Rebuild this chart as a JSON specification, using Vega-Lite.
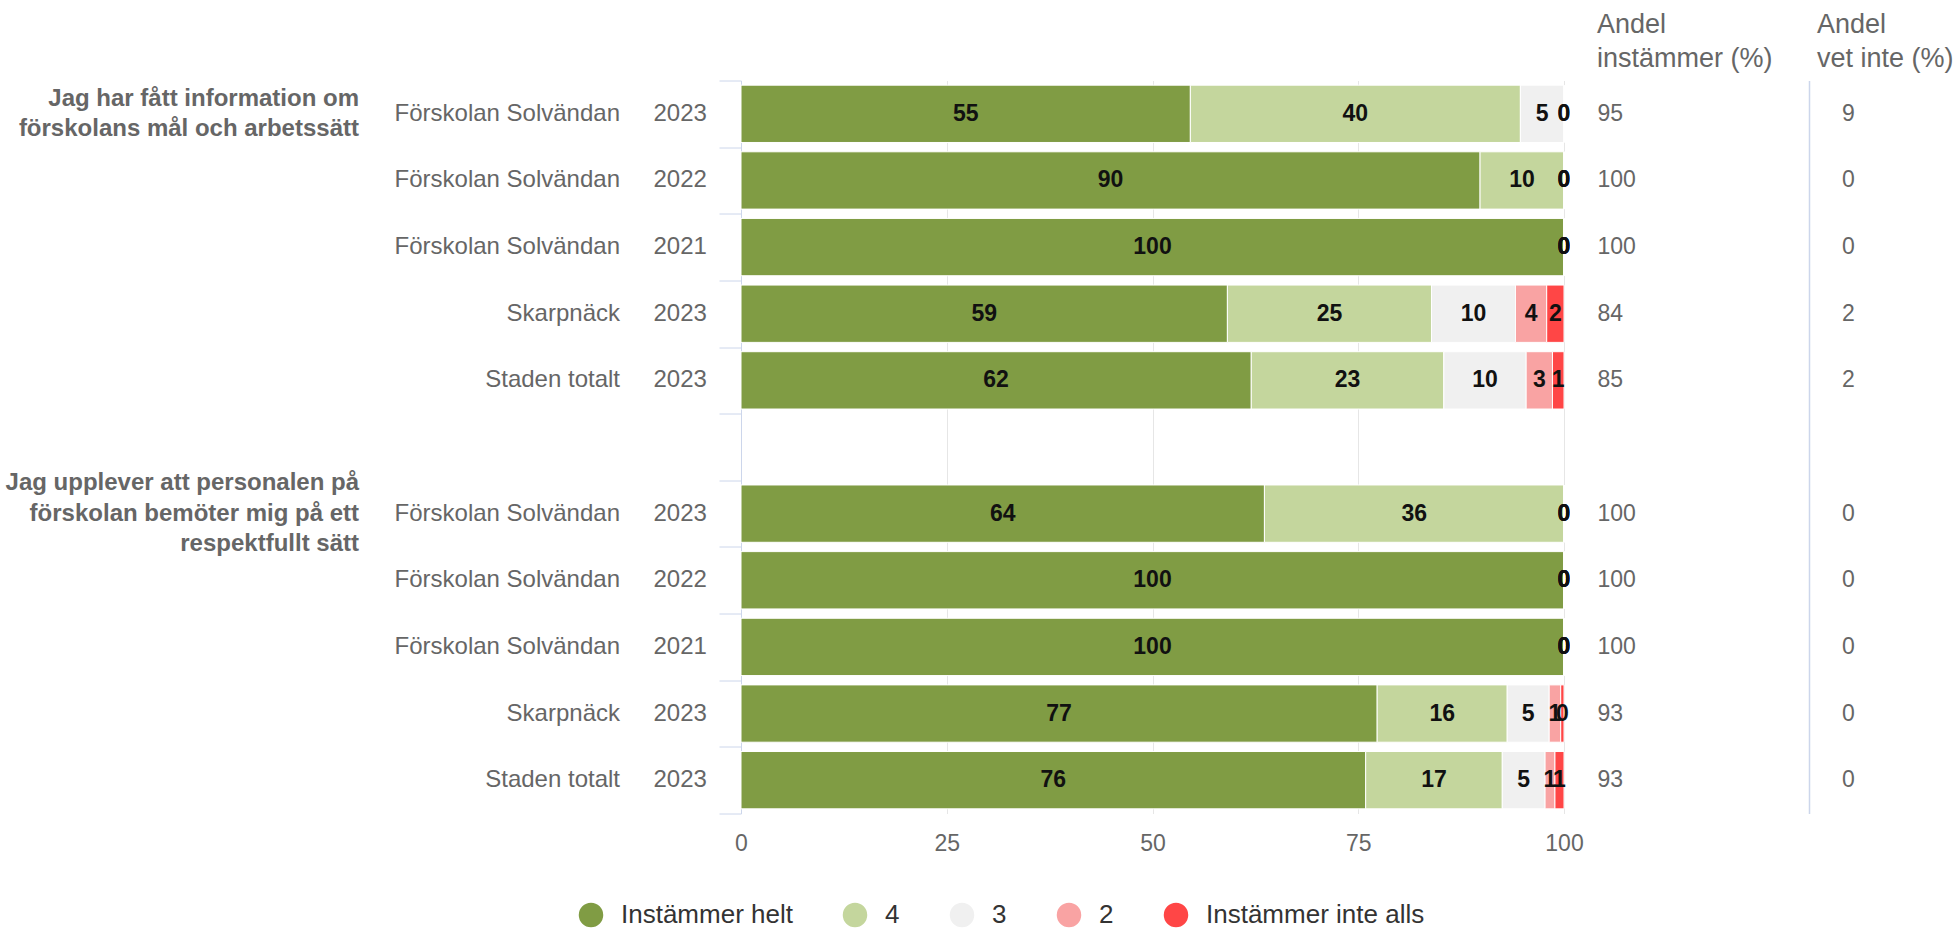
{
  "$schema": "https://vega.github.io/schema/vega-lite/v6.json",
  "padding": {"left": 0, "top": 10.5, "right": 0, "bottom": 0},
  "bounds": "flush",
  "spacing": 0,
  "config": {"font": "Liberation Sans", "view": {"stroke": null}, "concat": {"spacing": 0}},
  "datasets": {
    "questions": [
      {"row": "r0", "text": "Jag har fått information om\nförskolans mål och arbetssätt"},
      {"row": "r6", "text": "Jag upplever att personalen på\nförskolan bemöter mig på ett\nrespektfullt sätt"}
    ],
    "rows": [
      {"row": "r0", "name": "Förskolan Solvändan", "year": "2023", "andel": 95, "vetinte": 9},
      {"row": "r1", "name": "Förskolan Solvändan", "year": "2022", "andel": 100, "vetinte": 0},
      {"row": "r2", "name": "Förskolan Solvändan", "year": "2021", "andel": 100, "vetinte": 0},
      {"row": "r3", "name": "Skarpnäck", "year": "2023", "andel": 84, "vetinte": 2},
      {"row": "r4", "name": "Staden totalt", "year": "2023", "andel": 85, "vetinte": 2},
      {"row": "r6", "name": "Förskolan Solvändan", "year": "2023", "andel": 100, "vetinte": 0},
      {"row": "r7", "name": "Förskolan Solvändan", "year": "2022", "andel": 100, "vetinte": 0},
      {"row": "r8", "name": "Förskolan Solvändan", "year": "2021", "andel": 100, "vetinte": 0},
      {"row": "r9", "name": "Skarpnäck", "year": "2023", "andel": 93, "vetinte": 0},
      {"row": "r10", "name": "Staden totalt", "year": "2023", "andel": 93, "vetinte": 0}
    ],
    "svar": [
      {"row": "r0", "svar": "Instämmer helt", "level": 5, "value": 54.6},
      {"row": "r0", "svar": "4", "level": 4, "value": 40.1},
      {"row": "r0", "svar": "3", "level": 3, "value": 5.3},
      {"row": "r0", "svar": "2", "level": 2, "value": 0},
      {"row": "r0", "svar": "Instämmer inte alls", "level": 1, "value": 0},
      {"row": "r1", "svar": "Instämmer helt", "level": 5, "value": 89.8},
      {"row": "r1", "svar": "4", "level": 4, "value": 10.2},
      {"row": "r1", "svar": "3", "level": 3, "value": 0},
      {"row": "r1", "svar": "2", "level": 2, "value": 0},
      {"row": "r1", "svar": "Instämmer inte alls", "level": 1, "value": 0},
      {"row": "r2", "svar": "Instämmer helt", "level": 5, "value": 100},
      {"row": "r2", "svar": "4", "level": 4, "value": 0},
      {"row": "r2", "svar": "3", "level": 3, "value": 0},
      {"row": "r2", "svar": "2", "level": 2, "value": 0},
      {"row": "r2", "svar": "Instämmer inte alls", "level": 1, "value": 0},
      {"row": "r3", "svar": "Instämmer helt", "level": 5, "value": 59.1},
      {"row": "r3", "svar": "4", "level": 4, "value": 24.8},
      {"row": "r3", "svar": "3", "level": 3, "value": 10.2},
      {"row": "r3", "svar": "2", "level": 2, "value": 3.8},
      {"row": "r3", "svar": "Instämmer inte alls", "level": 1, "value": 2.1},
      {"row": "r4", "svar": "Instämmer helt", "level": 5, "value": 62.0},
      {"row": "r4", "svar": "4", "level": 4, "value": 23.4},
      {"row": "r4", "svar": "3", "level": 3, "value": 10.0},
      {"row": "r4", "svar": "2", "level": 2, "value": 3.2},
      {"row": "r4", "svar": "Instämmer inte alls", "level": 1, "value": 1.4},
      {"row": "r6", "svar": "Instämmer helt", "level": 5, "value": 63.6},
      {"row": "r6", "svar": "4", "level": 4, "value": 36.4},
      {"row": "r6", "svar": "3", "level": 3, "value": 0},
      {"row": "r6", "svar": "2", "level": 2, "value": 0},
      {"row": "r6", "svar": "Instämmer inte alls", "level": 1, "value": 0},
      {"row": "r7", "svar": "Instämmer helt", "level": 5, "value": 100},
      {"row": "r7", "svar": "4", "level": 4, "value": 0},
      {"row": "r7", "svar": "3", "level": 3, "value": 0},
      {"row": "r7", "svar": "2", "level": 2, "value": 0},
      {"row": "r7", "svar": "Instämmer inte alls", "level": 1, "value": 0},
      {"row": "r8", "svar": "Instämmer helt", "level": 5, "value": 100},
      {"row": "r8", "svar": "4", "level": 4, "value": 0},
      {"row": "r8", "svar": "3", "level": 3, "value": 0},
      {"row": "r8", "svar": "2", "level": 2, "value": 0},
      {"row": "r8", "svar": "Instämmer inte alls", "level": 1, "value": 0},
      {"row": "r9", "svar": "Instämmer helt", "level": 5, "value": 77.3},
      {"row": "r9", "svar": "4", "level": 4, "value": 15.8},
      {"row": "r9", "svar": "3", "level": 3, "value": 5.1},
      {"row": "r9", "svar": "2", "level": 2, "value": 1.4},
      {"row": "r9", "svar": "Instämmer inte alls", "level": 1, "value": 0.4},
      {"row": "r10", "svar": "Instämmer helt", "level": 5, "value": 75.9},
      {"row": "r10", "svar": "4", "level": 4, "value": 16.6},
      {"row": "r10", "svar": "3", "level": 3, "value": 5.2},
      {"row": "r10", "svar": "2", "level": 2, "value": 1.2},
      {"row": "r10", "svar": "Instämmer inte alls", "level": 1, "value": 1.1}
    ]
  },
  "hconcat": [
    {
      "width": 359, "height": 733,
      "data": {"name": "questions"},
      "mark": {"type": "text", "align": "right", "baseline": "middle", "fontSize": 24, "fontWeight": "bold", "color": "#666666", "lineBreak": "\n", "lineHeight": 30.5,
               "dy": {"expr": "-(length(split(datum.text, '\\n')) - 1) * 15.25"}},
      "encoding": {
        "y": {"field": "row", "type": "nominal", "scale": {"type": "band", "domain": ["r0","r1","r2","r3","r4","r5","r6","r7","r8","r9","r10"], "paddingInner": 0, "paddingOuter": 0}, "axis": null},
        "x": {"datum": 1, "type": "quantitative", "scale": {"domain": [0, 1]}, "axis": null},
        "text": {"field": "text", "type": "nominal"}
      }
    },
    {
      "width": 261, "height": 733,
      "data": {"name": "rows"},
      "mark": {"type": "text", "align": "right", "baseline": "middle", "fontSize": 24, "color": "#666666"},
      "encoding": {
        "y": {"field": "row", "type": "nominal", "scale": {"type": "band", "domain": ["r0","r1","r2","r3","r4","r5","r6","r7","r8","r9","r10"], "paddingInner": 0, "paddingOuter": 0}, "axis": null},
        "x": {"datum": 1, "type": "quantitative", "scale": {"domain": [0, 1]}, "axis": null},
        "text": {"field": "name", "type": "nominal"}
      }
    },
    {
      "width": 120.5, "height": 733,
      "data": {"name": "rows"},
      "mark": {"type": "text", "align": "left", "baseline": "middle", "fontSize": 24, "color": "#666666", "dx": 33.5},
      "encoding": {
        "y": {"field": "row", "type": "nominal", "scale": {"type": "band", "domain": ["r0","r1","r2","r3","r4","r5","r6","r7","r8","r9","r10"], "paddingInner": 0, "paddingOuter": 0}, "axis": null},
        "x": {"datum": 0, "type": "quantitative", "scale": {"domain": [0, 1]}, "axis": null},
        "text": {"field": "year", "type": "nominal"}
      }
    },
    {
      "width": 823, "height": 733,
      "data": {"name": "svar"},
      "encoding": {
        "y": {"field": "row", "type": "nominal", "scale": {"type": "band", "domain": ["r0","r1","r2","r3","r4","r5","r6","r7","r8","r9","r10"], "paddingInner": 0, "paddingOuter": 0},
              "axis": {"labels": false, "ticks": true, "tickSize": 22, "tickBand": "extent", "tickColor": "#ccd6eb", "domain": true, "domainColor": "#ccd6eb", "grid": false, "title": null}}
      },
      "layer": [
        {
          "mark": {"type": "bar", "height": {"band": 0.86}, "stroke": "white", "strokeWidth": 1},
          "encoding": {
            "x": {"field": "value", "type": "quantitative", "stack": "zero", "scale": {"domain": [0, 100], "nice": false},
                  "axis": {"values": [0, 25, 50, 75, 100], "domain": false, "ticks": false, "tickSize": 0, "grid": true, "gridColor": "#e6e6e6", "labelFontSize": 23, "labelColor": "#666666", "labelPadding": 19, "labelFlush": false, "title": null}},
            "color": {"field": "svar", "type": "nominal",
                      "scale": {"domain": ["Instämmer helt", "4", "3", "2", "Instämmer inte alls"], "range": ["#809c44", "#c4d69d", "#f0f0f0", "#f9a3a3", "#ff4646"]},
                      "legend": {"orient": "none", "legendX": 578, "legendY": 821.5, "direction": "horizontal", "title": null, "symbolType": "circle", "symbolSize": 600, "symbolStrokeWidth": 0, "labelFontSize": 26, "labelColor": "#333333", "labelLimit": 0, "columnPadding": 49, "labelOffset": 17, "padding": 0}},
            "order": {"field": "level", "type": "quantitative", "sort": "descending"}
          }
        },
        {
          "mark": {"type": "text", "fontSize": 23, "fontWeight": "bold", "color": "#111111", "baseline": "middle", "align": "center"},
          "encoding": {
            "x": {"field": "value", "type": "quantitative", "stack": "zero", "bandPosition": 0.5},
            "detail": {"field": "svar", "type": "nominal"},
            "order": {"field": "level", "type": "quantitative", "sort": "descending"},
            "text": {"field": "value", "type": "quantitative", "format": ".0f"}
          }
        }
      ]
    },
    {
      "width": 245, "height": 733,
      "data": {"name": "rows"},
      "title": {"text": ["Andel", "instämmer (%)"], "anchor": "start", "fontSize": 27, "fontWeight": "normal", "color": "#666666", "lineHeight": 34, "dx": 33, "offset": 8},
      "mark": {"type": "text", "align": "left", "baseline": "middle", "fontSize": 23, "color": "#666666", "dx": 33.5},
      "encoding": {
        "y": {"field": "row", "type": "nominal", "scale": {"type": "band", "domain": ["r0","r1","r2","r3","r4","r5","r6","r7","r8","r9","r10"], "paddingInner": 0, "paddingOuter": 0}, "axis": null},
        "x": {"datum": 0, "type": "quantitative", "scale": {"domain": [0, 1]}, "axis": null},
        "text": {"field": "andel", "type": "quantitative"}
      }
    },
    {
      "width": 146.5, "height": 733,
      "data": {"name": "rows"},
      "title": {"text": ["Andel", "vet inte (%)"], "anchor": "start", "fontSize": 27, "fontWeight": "normal", "color": "#666666", "lineHeight": 34, "dx": 8, "offset": 8},
      "mark": {"type": "text", "align": "left", "baseline": "middle", "fontSize": 23, "color": "#666666", "dx": 33},
      "encoding": {
        "y": {"field": "row", "type": "nominal", "scale": {"type": "band", "domain": ["r0","r1","r2","r3","r4","r5","r6","r7","r8","r9","r10"], "paddingInner": 0, "paddingOuter": 0},
              "axis": {"labels": false, "ticks": false, "domain": true, "domainColor": "#ccd6eb", "domainWidth": 1.5, "grid": false, "title": null}},
        "x": {"datum": 0, "type": "quantitative", "scale": {"domain": [0, 1]}, "axis": null},
        "text": {"field": "vetinte", "type": "quantitative"}
      }
    }
  ]
}
